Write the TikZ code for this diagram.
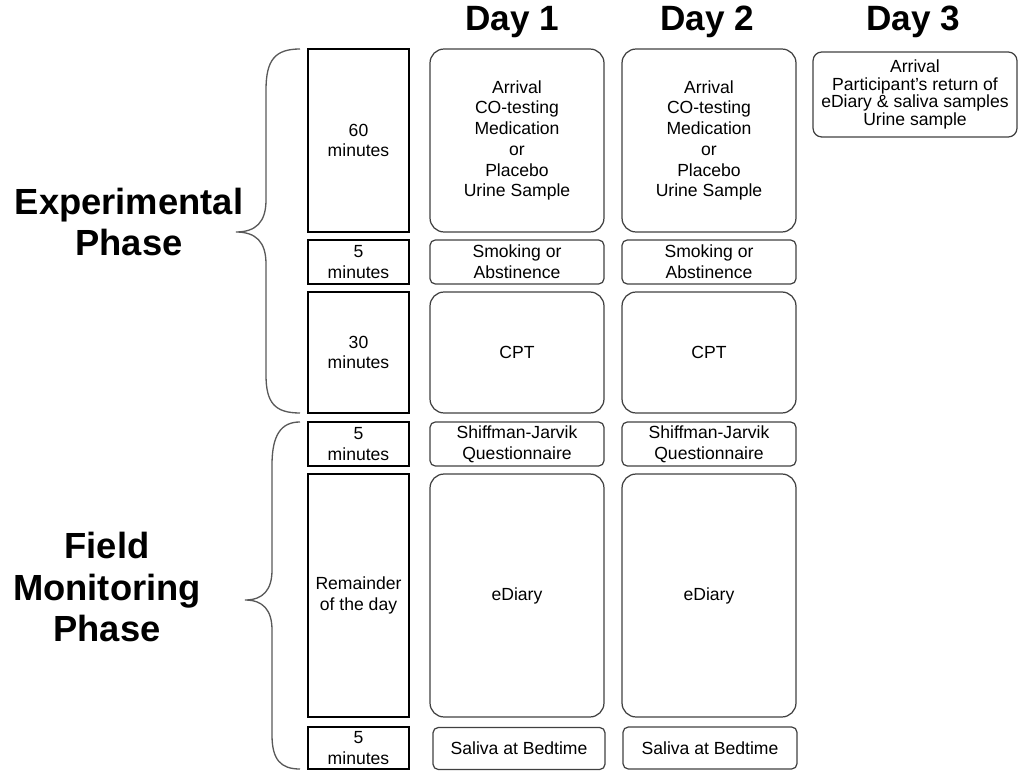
\documentclass[tikz,border=0pt]{standalone}
\usepackage{fontspec}
\setmainfont{Liberation Sans}
\begin{document}
\begin{tikzpicture}[x=0.02cm,y=-0.02cm,
  tbox/.style={draw=black,line width=1.1pt,inner sep=0pt,align=center,font=\fontsize{10}{11.6}\selectfont},
  dbox/.style={draw=black!75,line width=0.7pt,rounded corners=8pt,inner sep=0pt,align=center,font=\fontsize{10}{11.8}\selectfont},
  sbox/.style={dbox,rounded corners=3pt},
  daytitle/.style={font=\fontsize{20}{22}\selectfont\bfseries},
  phase/.style={font=\fontsize{20.7}{23.6}\selectfont\bfseries,align=center},
  brace/.style={draw=black!65,line width=0.75pt}
]
\useasboundingbox (0,0) rectangle (1021,773);
% titles
\node[daytitle] (d1) at (512,22) {Day 1};
\node[daytitle] (d2) at (707,22) {Day 2};
\node[daytitle] (d3) at (913,22) {Day 3};
% phase labels
\node[phase] (exp) at (129,222) {Experimental\\Phase};
\node[phase] (field) at (107,587) {Field\\Monitoring\\Phase};
% left time boxes
\node[tbox,minimum width=2.02cm,minimum height=3.66cm] (t1) at (358.5,140.5) {60\\minutes};
\node[tbox,minimum width=2.02cm,minimum height=0.88cm] (t2) at (358.5,262) {5\\minutes};
\node[tbox,minimum width=2.02cm,minimum height=2.42cm] (t3) at (358.5,352.5) {30\\minutes};
\node[tbox,minimum width=2.02cm,minimum height=0.88cm] (t4) at (358.5,444) {5\\minutes};
\node[tbox,minimum width=2.02cm,minimum height=4.86cm] (t5) at (358.5,595.5) {Remainder\\of the day};
\node[tbox,minimum width=2.02cm,minimum height=0.84cm] (t6) at (358.5,748) {5\\minutes};
% day 1
\node[dbox,minimum width=3.48cm,minimum height=3.66cm] (a1) at (517,140.5) {Arrival\\CO-testing\\Medication\\or\\Placebo\\Urine Sample};
\node[sbox,minimum width=3.48cm,minimum height=0.88cm] (b1) at (517,262) {Smoking or\\Abstinence};
\node[dbox,minimum width=3.48cm,minimum height=2.42cm] (c1) at (517,352.5) {CPT};
\node[sbox,minimum width=3.48cm,minimum height=0.88cm] (e1) at (517,444) {Shiffman-Jarvik\\Questionnaire};
\node[dbox,minimum width=3.48cm,minimum height=4.86cm] (f1) at (517,595.5) {eDiary};
\node[sbox,minimum width=3.44cm,minimum height=0.84cm] (g1) at (519,748.5) {Saliva at Bedtime};
% day 2
\node[dbox,minimum width=3.48cm,minimum height=3.66cm] (a2) at (709,140.5) {Arrival\\CO-testing\\Medication\\or\\Placebo\\Urine Sample};
\node[sbox,minimum width=3.48cm,minimum height=0.88cm] (b2) at (709,262) {Smoking or\\Abstinence};
\node[dbox,minimum width=3.48cm,minimum height=2.42cm] (c2) at (709,352.5) {CPT};
\node[sbox,minimum width=3.48cm,minimum height=0.88cm] (e2) at (709,444) {Shiffman-Jarvik\\Questionnaire};
\node[dbox,minimum width=3.48cm,minimum height=4.86cm] (f2) at (709,595.5) {eDiary};
\node[sbox,minimum width=3.48cm,minimum height=0.84cm] (g2) at (710,748) {Saliva at Bedtime};
% day 3
\node[sbox,rounded corners=5pt,minimum width=4.08cm,minimum height=1.7cm,font=\fontsize{10}{10.1}\selectfont] (a3) at (915,94.5) {Arrival\\Participant’s return of\\eDiary \& saliva samples\\Urine sample};
% braces
\coordinate (ebt) at (300,49);
\coordinate (ebm) at (236,232);
\coordinate (ebb) at (300,413);
\draw[brace] (ebt) .. controls (275,49) and (266,60) .. (266,90) -- (266,200)
  .. controls (266,222) and (256,232) .. (ebm)
  .. controls (256,232) and (266,242) .. (266,264) -- (266,375)
  .. controls (266,403) and (275,413) .. (ebb);
\coordinate (fbt) at (300,422);
\coordinate (fbm) at (245,600);
\coordinate (fbb) at (300,769);
\draw[brace] (fbt) .. controls (281,422) and (272,435) .. (272,465) -- (272,570)
  .. controls (272,590) and (263,600) .. (fbm)
  .. controls (263,600) and (272,610) .. (272,630) -- (272,735)
  .. controls (272,760) and (281,769) .. (fbb);
\end{tikzpicture}
\end{document}
